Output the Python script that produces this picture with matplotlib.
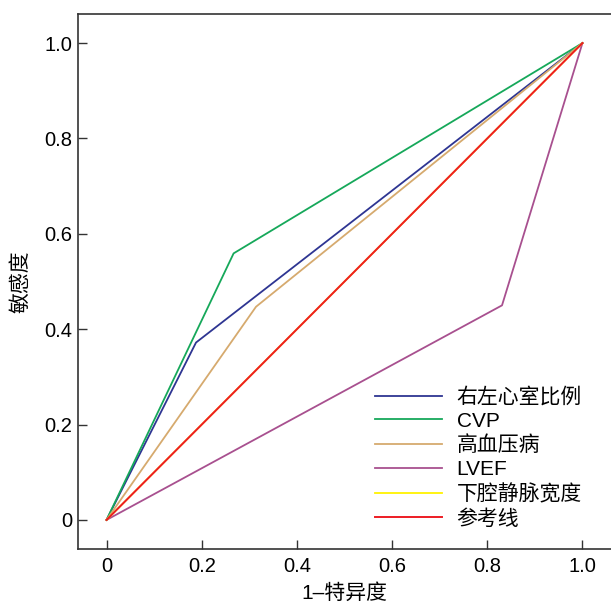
import matplotlib
matplotlib.use("Agg")
import matplotlib.pyplot as plt

plt.rcParams['font.family'] = ['Liberation Sans', 'Noto Sans CJK SC', 'DejaVu Sans']

labels = ["右左心室比例", "CVP", "高血压病", "LVEF", "下腔静脉宽度", "参考线"]
colors = ["#2E3592", "#16A85A", "#D6AA6E", "#A8508F", "#FFF200", "#ED1C24"]
fpr = [
    [0.0, 0.188, 1.0],
    [0.0, 0.267, 1.0],
    [0.0, 0.314, 1.0],
    [0.0, 0.831, 1.0],
    [0.0, 1.0],
    [0.0, 1.0],
]
tpr = [
    [0.0, 0.372, 1.0],
    [0.0, 0.559, 1.0],
    [0.0, 0.447, 1.0],
    [0.0, 0.450, 1.0],
    [0.0, 1.0],
    [0.0, 1.0],
]
ticks = [0, 0.2, 0.4, 0.6, 0.8, 1.0]
tick_labels = ["0", "0.2", "0.4", "0.6", "0.8", "1.0"]

W, H = 611, 605
fig = plt.figure(figsize=(W / 100, H / 100), dpi=100)
left, right, top, bottom = 78, 611, 14, 549
ax = fig.add_axes([left / W, 1 - bottom / H, (right - left) / W, (bottom - top) / H])

widths = [1.3, 1.3, 1.3, 1.3, 1.3, 1.4]
for x, y, c, lab, lw in zip(fpr, tpr, colors, labels, widths):
    ax.plot(x, y, color=c, lw=lw, label=lab)

ax.set_xlim(-0.06, 1.06)
ax.set_ylim(-0.061, 1.061)
ax.set_xticks(ticks)
ax.set_xticklabels(tick_labels)
ax.set_yticks(ticks)
ax.set_yticklabels(tick_labels)
ax.tick_params(direction='in', length=6.5, width=1.0, labelsize=14.5, color='#333333', pad=6)
ax.tick_params(axis='y', pad=4)
for s in ['left', 'bottom', 'top']:
    ax.spines[s].set_linewidth(1.2)
    ax.spines[s].set_color('#333333')
ax.spines['right'].set_visible(False)

ax.set_xlabel("1–特异度", fontsize=15, labelpad=5)
ax.set_ylabel("敏感度", fontsize=15, labelpad=10)

leg = ax.legend(loc='upper left', bbox_to_anchor=(375 / W, 1 - 387 / H),
                bbox_transform=fig.transFigure, frameon=False,
                fontsize=15, handlelength=3.2, handletextpad=0.72, labelspacing=0.23,
                borderpad=0, borderaxespad=0)

fig.savefig("out.png", dpi=100)
